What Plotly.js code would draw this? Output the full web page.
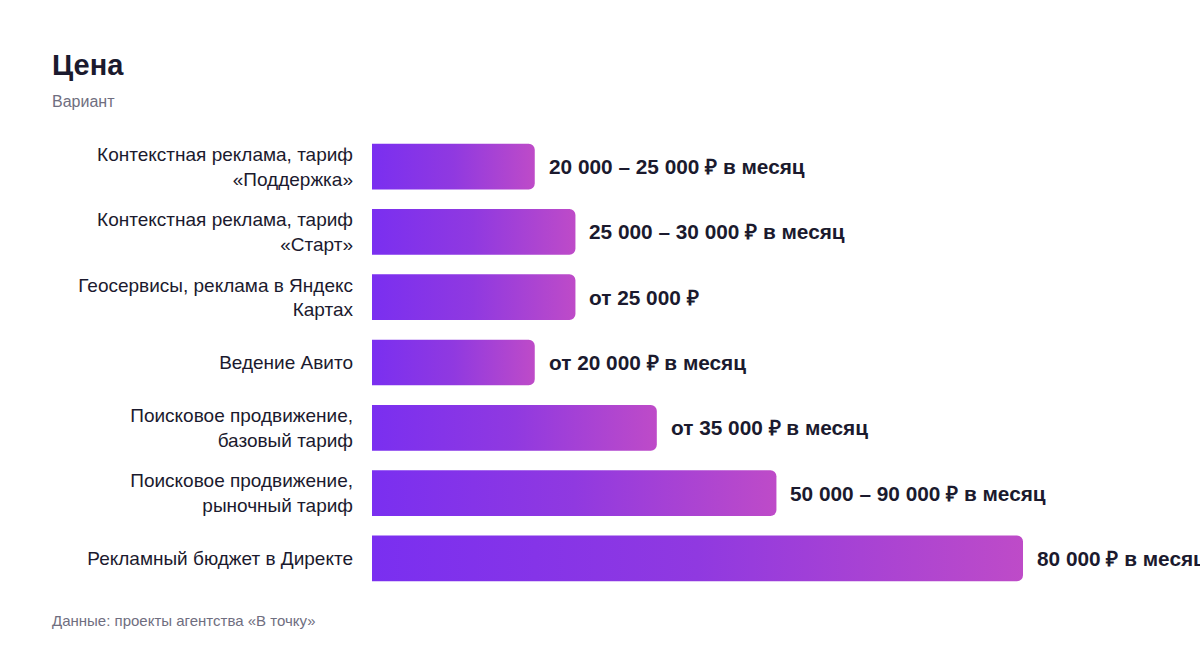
<!DOCTYPE html>
<html>
<head>
<meta charset="utf-8">
<script src="https://cdn.plot.ly/plotly-3.0.1.min.js"></script>
<style>
  html, body { margin: 0; padding: 0; background: #fff; }
  #chart { width: 1200px; height: 648px; }
</style>
</head>
<body>
<div id="chart"></div>
<script>
// categories, values (lower bound of the price) and the printed price texts
var services = [
    "Контекстная реклама, тариф<br>«Поддержка»",
    "Контекстная реклама, тариф<br>«Старт»",
    "Геосервисы, реклама в Яндекс<br>Картах",
    "Ведение Авито",
    "Поисковое продвижение,<br>базовый тариф",
    "Поисковое продвижение,<br>рыночный тариф",
    "Рекламный бюджет в Директе"
];
var prices = [20000, 25000, 25000, 20000, 35000, 49700, 80000];
var priceLabels = [
    "20 000 – 25 000 ₽ в месяц",
    "25 000 – 30 000 ₽ в месяц",
    "от 25 000 ₽",
    "от 20 000 ₽ в месяц",
    "от 35 000 ₽ в месяц",
    "50 000 – 90 000 ₽ в месяц",
    "80 000 ₽ в месяц"
];

var FONT = '"Liberation Sans", Arial, sans-serif';
var DARK = '#1b1a2e';

var trace = {
    type: 'bar',
    orientation: 'h',
    y: services,
    x: prices,
    width: 0.7,
    marker: { color: '#9b3fe0', cornerradius: 6 },
    hoverinfo: 'skip'
};

// price texts next to each bar
var notes = services.map(function (s, i) {
    return {
        x: prices[i], y: s, xref: 'x', yref: 'y',
        text: '<b>' + priceLabels[i] + '</b>',
        showarrow: false, xanchor: 'left', xshift: 12,
        font: { family: FONT, size: 20.8, color: DARK }
    };
});
notes.push({
    text: 'Вариант', xref: 'paper', yref: 'paper',
    x: (50 - 372) / 651, y: 1 + (134 - 102) / 457,
    xanchor: 'left', yanchor: 'middle', showarrow: false,
    font: { family: FONT, size: 16, color: '#6f6e80' }
});
notes.push({
    text: 'Данные: проекты агентства «В точку»', xref: 'paper', yref: 'paper',
    x: (50 - 372) / 651, y: -(620 - 591) / 457,
    xanchor: 'left', yanchor: 'middle', showarrow: false,
    font: { family: FONT, size: 15, color: '#6f6e80' }
});

var layout = {
    width: 1200,
    height: 648,
    paper_bgcolor: '#fff',
    plot_bgcolor: '#fff',
    margin: { l: 372, r: 177, t: 134, b: 57 },
    showlegend: false,
    font: { family: FONT, color: DARK },
    title: {
        text: '<b>Цена</b>',
        font: { family: FONT, size: 29, color: DARK },
        xref: 'container', x: 52 / 1200, xanchor: 'left',
        yref: 'container', y: 1 - 65 / 648, yanchor: 'middle'
    },
    xaxis: {
        range: [0, 80000],
        visible: false,
        fixedrange: true
    },
    yaxis: {
        autorange: 'reversed',
        showgrid: false,
        zeroline: false,
        showline: false,
        ticks: '',
        ticklabelstandoff: 18,
        tickfont: { family: FONT, size: 19, color: DARK },
        fixedrange: true
    },
    annotations: notes
};

Plotly.newPlot('chart', [trace], layout, { displayModeBar: false, staticPlot: true }).then(function (gd) {
    // purple -> pink gradient on every bar
    var svg = gd.querySelector('svg.main-svg');
    var ns = 'http://www.w3.org/2000/svg';
    var defs = svg.querySelector('defs') || svg.insertBefore(document.createElementNS(ns, 'defs'), svg.firstChild);
    var grad = document.createElementNS(ns, 'linearGradient');
    grad.setAttribute('id', 'barGrad');
    grad.setAttribute('x1', '0'); grad.setAttribute('y1', '0');
    grad.setAttribute('x2', '1'); grad.setAttribute('y2', '0');
    [['0', '#7a2ff0'], ['0.5', '#9039e0'], ['1', '#be4bc8']].forEach(function (st) {
        var s = document.createElementNS(ns, 'stop');
        s.setAttribute('offset', st[0]);
        s.setAttribute('stop-color', st[1]);
        grad.appendChild(s);
    });
    defs.appendChild(grad);
    gd.querySelectorAll('.bars .point path').forEach(function (p) {
        p.style.fill = 'url(#barGrad)';
    });
});
</script>
</body>
</html>
